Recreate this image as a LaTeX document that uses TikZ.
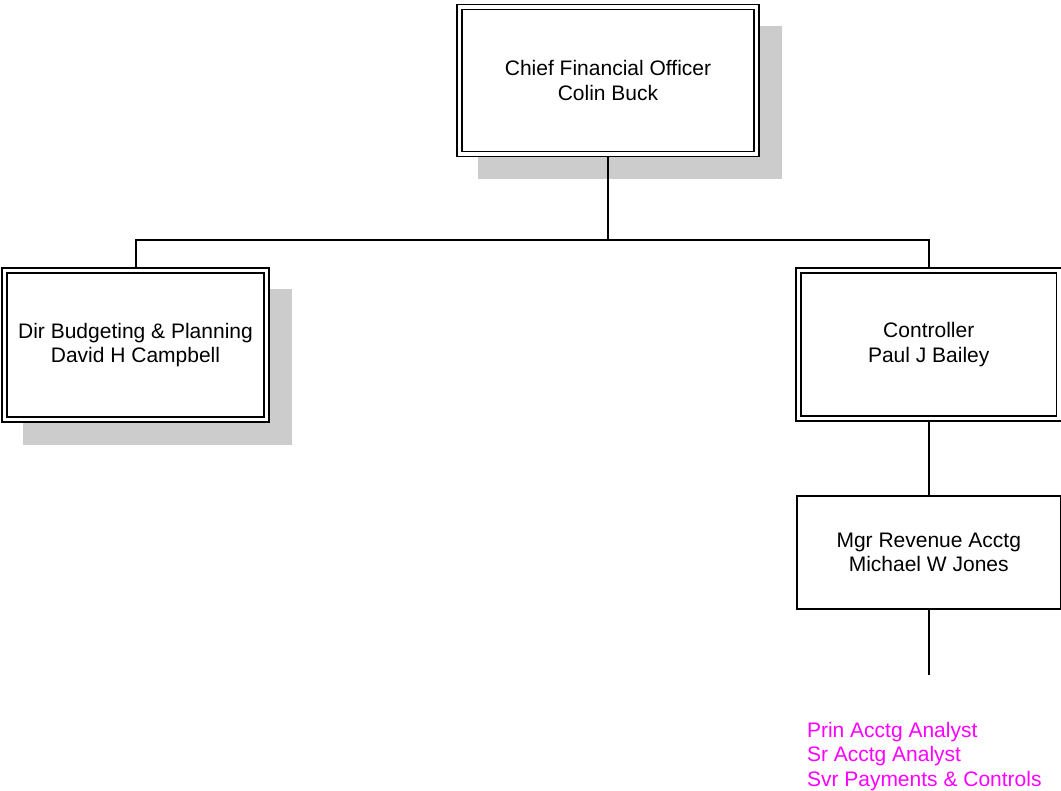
\documentclass[tikz,border=0pt]{standalone}
\usepackage{fontspec}
\setmainfont{Liberation Sans}
\usetikzlibrary{backgrounds}
\definecolor{shadowgray}{RGB}{204,204,204}
\definecolor{staffpink}{RGB}{255,0,255}

\begin{document}
\begin{tikzpicture}[x=1pt, y=-1pt, every node/.style={align=center, inner sep=0pt, outer sep=0pt},
    font=\fontsize{21}{24.5}\selectfont,
    dblbox/.style={draw, double, double distance=3.5pt, line width=1.5pt, fill=white},
    plainbox/.style={draw, line width=1.6pt, fill=white},
    link/.style={line width=2pt}]
        \useasboundingbox (0,0) rectangle (1061,791);

        % Boxes
        \node[dblbox, minimum width=297pt, minimum height=147pt] (cfo) at (608,80.5)
            {Chief Financial Officer\\ Colin Buck};
        \node[dblbox, minimum width=262pt, minimum height=149pt] (budget) at (135.5,345)
            {Dir Budgeting \& Planning\\ David H Campbell};
        \node[dblbox, minimum width=260.5pt, minimum height=148pt] (controller) at (928.75,344.5)
            {Controller\\ Paul J Bailey};
        \node[plainbox, minimum width=263.5pt, minimum height=113pt] (revenue) at (928.75,552.5)
            {Mgr Revenue Acctg\\ Michael W Jones};

        % Staff list
        \node[anchor=north west, align=left, text=staffpink] (staff) at (807,722)
            {Prin Acctg Analyst\\ Sr Acctg Analyst\\ Svr Payments \& Controls};

        \coordinate (bus) at (608,240.5);
        \coordinate (staffend) at (928.75,674.5);

        \begin{scope}[on background layer]
            % Shadows
            \fill[shadowgray] ([shift={(18.75,18.75)}]cfo.north west) rectangle ([shift={(25.25,25.25)}]cfo.south east);
            \fill[shadowgray] ([shift={(18.75,18.75)}]budget.north west) rectangle ([shift={(25.25,25.25)}]budget.south east);

            % Lines
            \draw[link] (cfo.south) -- (bus);
            \draw[link] (budget.north) |- (bus) -| (controller.north);
            \draw[link] (controller.south) -- (revenue.north);
            \draw[link] (revenue.south) -- (staffend);
        \end{scope}

    \end{tikzpicture}
\end{document}
